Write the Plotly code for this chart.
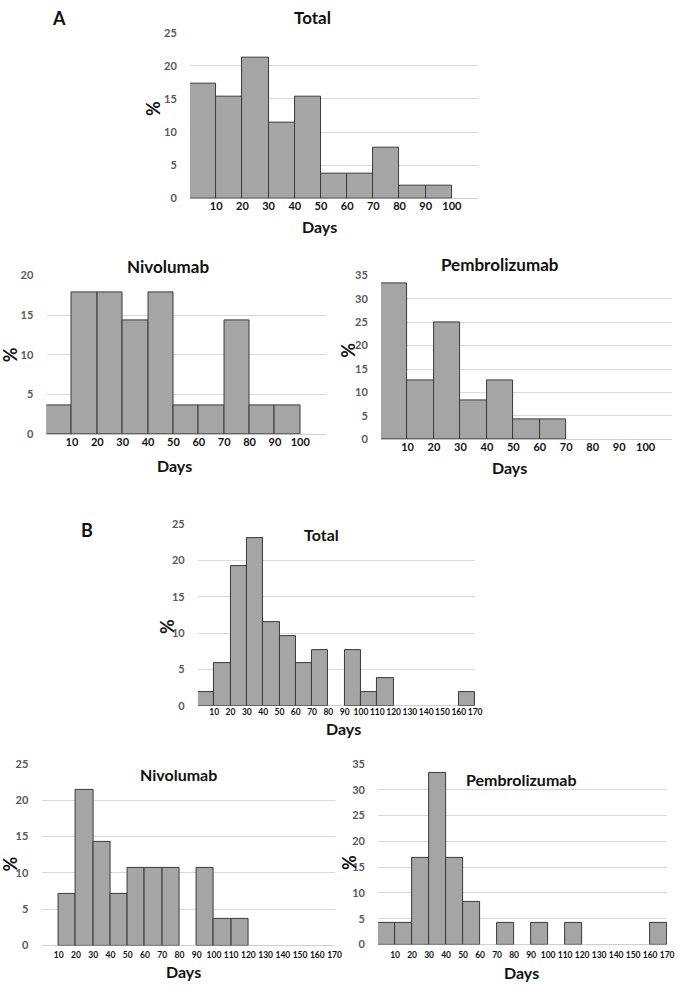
import plotly.graph_objects as go

W, H = 685, 988

# ---- data (percent of patients per 10-day bin; bin start in days) ----
bins_a = [0, 10, 20, 30, 40, 50, 60, 70, 80, 90]
a_total = [17.3, 15.4, 21.2, 11.5, 15.4, 3.8, 3.8, 7.7, 1.9, 1.9]
a_nivo = [3.6, 17.9, 17.9, 14.3, 17.9, 3.6, 3.6, 14.3, 3.6, 3.6]
a_pembro = [33.3, 12.5, 25.0, 8.3, 12.5, 4.2, 4.2, 0, 0, 0]
ticks_a = [10, 20, 30, 40, 50, 60, 70, 80, 90, 100]

bins_b = [0, 10, 20, 30, 40, 50, 60, 70, 80, 90, 100, 110, 120, 130, 140, 150, 160]
b_total = [1.9, 5.8, 19.2, 23.1, 11.5, 9.6, 5.8, 7.7, 0, 7.7, 1.9, 3.8, 0, 0, 0, 0, 1.9]
b_nivo = [0, 7.1, 21.4, 14.3, 7.1, 10.7, 10.7, 10.7, 0, 10.7, 3.6, 3.6, 0, 0, 0, 0, 0]
b_pembro = [4.2, 4.2, 16.7, 33.3, 16.7, 8.3, 0, 4.2, 0, 4.2, 0, 4.2, 0, 0, 0, 0, 4.2]
ticks_b = [10, 20, 30, 40, 50, 60, 70, 80, 90, 100, 110, 120, 130, 140, 150, 160, 170]

BIN = 10
FONT = "Lato, 'Open Sans', Arial, sans-serif"

# panel: (data, bins, ticks, xrange, yrange, ydtick, left, right, top, bottom px, tick font size, tick gap)
panels = [
    (a_total, bins_a, ticks_a, [0, 110], [0, 25], 5, 192, 483, 26, 194, 11, 0),
    (a_nivo, bins_a, ticks_a, [0, 110], [0, 20], 5, 47, 329, 272, 433, 11, 0),
    (a_pembro, bins_a, ticks_a, [0, 110], [0, 35], 5, 385, 679, 272, 438, 11, 0),
    (b_total, bins_b, ticks_b, [0, 170], [0, 25], 5, 200, 480, 524, 708, 8.5, 0),
    (b_nivo, bins_b, ticks_b, [0, 170], [0, 25], 5, 42, 338, 767, 951, 8.5, 1),
    (b_pembro, bins_b, ticks_b, [0, 170], [0, 35], 5, 382, 674, 767, 950, 8.5, 2),
]

fig = go.Figure()
layout = {}
for i, (vals, bins, ticks, xr, yr, dt, l, r, t, b, tfs, tg) in enumerate(panels, start=1):
    xa = "x" if i == 1 else f"x{i}"
    ya = "y" if i == 1 else f"y{i}"
    fig.add_trace(go.Bar(
        x=[s + BIN / 2 for s in bins], y=vals, width=BIN,
        marker=dict(color="#a5a5a5",
                    line=dict(color="#3a3a3a", width=[1 if v > 0 else 0 for v in vals])),
        xaxis=xa, yaxis=ya, showlegend=False, hoverinfo="skip",
    ))
    layout["xaxis" if i == 1 else f"xaxis{i}"] = dict(
        domain=[l / W, r / W], range=xr, anchor=ya,
        tickvals=ticks, ticktext=[str(v) for v in ticks], tickangle=0,
        tickfont=dict(family=FONT, size=tfs, color="#111111", weight="bold"),
        showgrid=False, zeroline=False, showline=False,
        ticks="outside" if tg else "", ticklen=tg, tickcolor="rgba(0,0,0,0)",
    )
    layout["yaxis" if i == 1 else f"yaxis{i}"] = dict(
        domain=[1 - b / H, 1 - t / H], range=yr, anchor=xa, dtick=dt,
        tickfont=dict(family=FONT, size=11, color="#595959", weight="bold"),
        showgrid=True, gridcolor="#d9d9d9", gridwidth=1,
        zeroline=True, zerolinecolor="#d0d0d0", zerolinewidth=1, showline=False,
        ticks="outside", ticklen=10, tickcolor="rgba(0,0,0,0)",
    )

fig.update_layout(**layout)


def ann(text, px, py, size, angle=0):
    fig.add_annotation(
        text=text, x=px / W, y=1 - py / H, xref="paper", yref="paper",
        showarrow=False, textangle=angle, xanchor="center", yanchor="middle",
        font=dict(family=FONT, size=size, color="#111111", weight="bold"),
    )


# panel letters
ann("A", 60, 11, 18)
ann("B", 88, 530, 18)

# titles
ann("Total", 316, 11, 17)
ann("Nivolumab", 170, 263, 17)
ann("Pembrolizumab", 505, 261, 17)
ann("Total", 325, 535, 16)
ann("Nivolumab", 180, 778, 16)
ann("Pembrolizumab", 527, 783, 16)

# x axis titles
ann("Days", 323, 222, 16)
ann("Days", 176, 465, 16)
ann("Days", 515, 467, 16)
ann("Days", 347, 731, 16)
ann("Days", 185, 977, 16)
ann("Days", 527, 978, 16)

# y axis titles
ann("%", 154, 103, 18, -90)
ann("%", 10, 352, 18, -90)
ann("%", 352, 348, 18, -90)
ann("%", 168, 628, 18, -90)
ann("%", 10, 868, 18, -90)
ann("%", 352, 867, 18, -90)

fig.update_layout(
    width=W, height=H, margin=dict(l=0, r=0, t=0, b=0),
    paper_bgcolor="white", plot_bgcolor="white", bargap=0,
)

fig.write_html("out.html", config={"displayModeBar": False},
               post_script="document.body.style.margin='0';")
